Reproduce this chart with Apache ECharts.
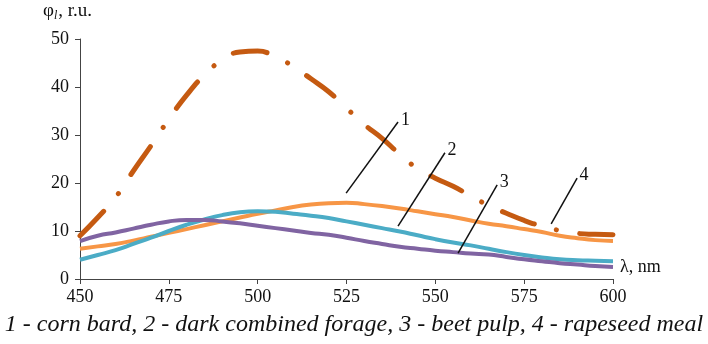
<!DOCTYPE html>
<html>
<head>
<meta charset="utf-8">
<script src="https://cdn.jsdelivr.net/npm/echarts@6/dist/echarts.min.js"></script>
<style>
  html, body { margin: 0; padding: 0; background: #fff; }
  #chart { width: 708px; height: 344px; }
</style>
</head>
<body>
<div id="chart"></div>
<script>
// wavelength, nm (5 nm step)
var lambda = [450,455,460,465,470,475,480,485,490,495,500,505,510,515,520,525,
              530,535,540,545,550,555,560,565,570,575,580,585,590,595,600];
// 1 - corn bard
var cornBard = [6.3,6.8,7.3,8.0,8.8,9.6,10.4,11.2,12.0,12.8,13.6,14.3,15.0,15.5,15.8,15.9,
                15.6,15.2,14.7,14.1,13.5,12.9,12.2,11.5,11.0,10.4,9.8,9.0,8.5,8.1,7.9];
// 2 - dark combined forage
var darkForage = [4.0,5.0,6.0,7.3,8.6,10.0,11.3,12.4,13.3,13.9,14.1,14.0,13.6,13.2,12.7,12.0,
                  11.3,10.6,9.9,9.1,8.3,7.6,7.0,6.3,5.6,5.0,4.5,4.1,3.9,3.8,3.7];
// 3 - beet pulp
var beetPulp = [7.9,9.0,9.7,10.5,11.3,12.0,12.3,12.3,12.0,11.6,11.1,10.6,10.1,9.6,9.2,8.6,
                7.9,7.3,6.7,6.3,5.9,5.6,5.3,5.1,4.6,4.1,3.7,3.3,3.0,2.7,2.5];
// 4 - rapeseed meal
var rapeseed = [9.0,12.8,17.0,22.5,27.8,33.3,38.3,42.5,45.6,47.3,47.5,46.3,44.3,41.7,39.0,35.6,
                32.2,29.3,26.0,23.0,21.0,19.3,17.3,15.3,13.7,12.2,11.0,10.1,9.5,9.3,9.2];

var xTicks = [450, 475, 500, 525, 550, 575, 600];
var yTicks = [0, 10, 20, 30, 40, 50];

// leader lines for the curve numbers: [from], [to] in data units
var leaders = [
    { name: '1', from: [524.9, 17.9], to: [539.5, 32.7] },
    { name: '2', from: [539.5, 11.0], to: [552.7, 26.3] },
    { name: '3', from: [556.4, 5.4],  to: [567.4, 19.6] },
    { name: '4', from: [582.6, 11.5], to: [589.9, 21.0] }
];

function pairs(ys) {
    return lambda.map(function (x, i) { return [x, ys[i]]; });
}

var serif = '"Liberation Serif", "DejaVu Serif", serif';

function leaderLine(l) {
    return {
        silent: true,
        symbol: 'none',
        animation: false,
        lineStyle: { color: '#111', width: 1.5, type: 'solid' },
        label: {
            show: true,
            position: 'end',
            formatter: l.name,
            color: '#111',
            fontFamily: serif,
            fontSize: 18,
            distance: 4,
            offset: [5, 10]
        },
        data: [[{ coord: l.from }, { coord: l.to }]]
    };
}

var chart = echarts.init(document.getElementById('chart'));

var option = {
    animation: false,
    backgroundColor: '#fff',
    grid: { left: 80, right: 95, top: 39, bottom: 65, containLabel: false },
    xAxis: {
        type: 'value',
        min: xTicks[0],
        max: xTicks[xTicks.length - 1],
        interval: 25,
        axisLine: { show: true, lineStyle: { color: '#444', width: 1 } },
        axisTick: { show: true, length: 5, lineStyle: { color: '#444' } },
        splitLine: { show: false },
        axisLabel: { color: '#111', fontFamily: serif, fontSize: 18, margin: 9 }
    },
    yAxis: {
        type: 'value',
        min: yTicks[0],
        max: yTicks[yTicks.length - 1],
        interval: 10,
        axisLine: { show: true, lineStyle: { color: '#444', width: 1 } },
        axisTick: { show: true, length: 5, lineStyle: { color: '#444' } },
        splitLine: { show: false },
        axisLabel: { color: '#111', fontFamily: serif, fontSize: 18, margin: 11 }
    },
    graphic: [
        {
            type: 'text', left: 43, top: 2,
            style: {
                text: '{a|φ}{s|l}{a|, r.u.}',
                rich: {
                    a: { fontFamily: serif, fontSize: 19, fill: '#111' },
                    s: { fontFamily: serif, fontSize: 12, fontStyle: 'italic', fill: '#111', padding: [9, 1, 0, 0] }
                }
            }
        },
        {
            type: 'text', left: 620, top: 258,
            style: { text: 'λ, nm', fontFamily: serif, fontSize: 18, fill: '#111' }
        },
        {
            type: 'text', left: 'center', top: 313,
            style: {
                text: '1 - corn bard, 2 - dark combined forage, 3 - beet pulp, 4 - rapeseed meal',
                fontFamily: serif, fontStyle: 'italic', fontSize: 24, fill: '#111'
            }
        }
    ],
    series: [
        {
            name: 'corn bard', type: 'line', smooth: true, showSymbol: false,
            data: pairs(cornBard),
            lineStyle: { color: '#F79646', width: 4 },
            markLine: leaderLine(leaders[0])
        },
        {
            name: 'dark combined forage', type: 'line', smooth: true, showSymbol: false,
            data: pairs(darkForage),
            lineStyle: { color: '#4BACC6', width: 4 },
            markLine: leaderLine(leaders[1])
        },
        {
            name: 'beet pulp', type: 'line', smooth: true, showSymbol: false,
            data: pairs(beetPulp),
            lineStyle: { color: '#8064A2', width: 4 },
            markLine: leaderLine(leaders[2])
        },
        {
            name: 'rapeseed meal', type: 'line', smooth: true, showSymbol: false,
            data: pairs(rapeseed),
            lineStyle: { color: '#C55A11', width: 5, type: [34, 23, 0.1, 23], cap: 'round' },
            markLine: leaderLine(leaders[3])
        }
    ]
};

chart.setOption(option);
</script>
</body>
</html>
